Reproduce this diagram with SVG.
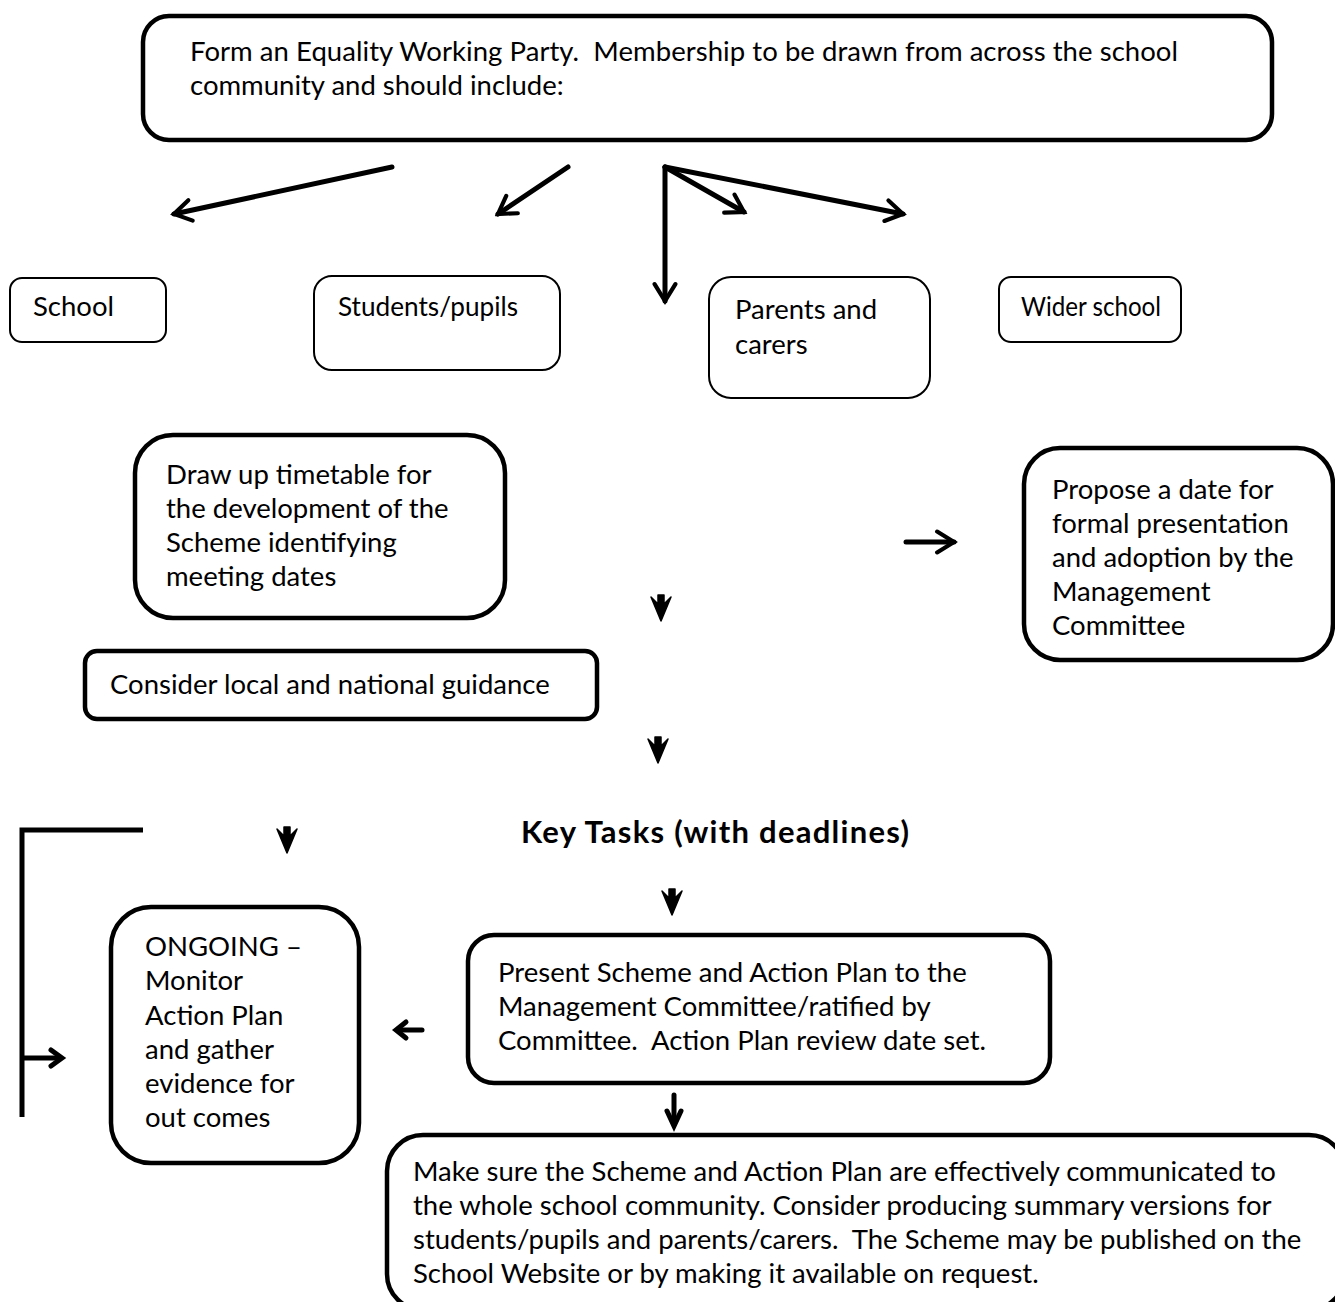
<svg xmlns="http://www.w3.org/2000/svg" width="1335" height="1302" viewBox="0 0 1335 1302" xml:space="preserve">
<defs>
<style>
text{font-family:"Lato","Liberation Sans",sans-serif;font-size:27.5px;fill:#000;white-space:pre}
.b{font-weight:bold;font-size:31px}
.thick{fill:#fff;stroke:#000;stroke-width:4.5}
.thin{fill:#fff;stroke:#000;stroke-width:2}
.ln{fill:none;stroke:#000;stroke-width:5;stroke-linecap:round;stroke-linejoin:round}
.hd{fill:none;stroke:#000;stroke-width:5;stroke-linecap:round;stroke-linejoin:miter}
.fa{fill:#000;stroke:#000;stroke-width:1.5;stroke-linejoin:round}
</style>
<marker id="open" viewBox="0 0 20 20" refX="17" refY="10" markerWidth="26" markerHeight="26" markerUnits="userSpaceOnUse" orient="auto">
<path d="M4,2 L17,10 L4,18" fill="none" stroke="#000" stroke-width="3.2" stroke-linecap="round"/>
</marker>
</defs>
<rect width="1335" height="1302" fill="#fff"/>

<g id="connectors">
<line class="ln" x1="392" y1="167" x2="174" y2="214" marker-end="url(#open)"/>
<line class="ln" x1="568" y1="167" x2="498" y2="214" marker-end="url(#open)"/>
<line class="ln" x1="665" y1="167" x2="665" y2="301" marker-end="url(#open)"/>
<line class="ln" x1="665" y1="167" x2="744" y2="212" marker-end="url(#open)"/>
<line class="ln" x1="665" y1="167" x2="903" y2="214" marker-end="url(#open)"/>
<line class="ln" x1="906" y1="542" x2="954" y2="542" marker-end="url(#open)"/>
<path class="fa" d="M651,597 L661,621 L671,597 L664,604 L664,595 L658,595 L658,604 Z"/>
<path class="fa" d="M648,739 L658,763 L668,739 L661,746 L661,737 L655,737 L655,746 Z"/>
<path class="fa" d="M277,829 L287,853 L297,829 L290,836 L290,827 L284,827 L284,836 Z"/>
<path class="fa" d="M662,891 L672,915 L682,891 L675,898 L675,889 L669,889 L669,898 Z"/>
<line class="ln" x1="674" y1="1095" x2="674" y2="1124"/>
<path class="hd" d="M667,1111 L674,1126 L681,1111"/>
<line class="ln" x1="422" y1="1030" x2="398" y2="1030"/>
<path class="hd" d="M406,1022 L396,1030 L406,1038"/>
<path class="ln" d="M143,830 L22,830 L22,1117" style="stroke-linecap:butt;stroke-linejoin:miter"/>
<line class="ln" x1="24" y1="1058" x2="59" y2="1058"/>
<path class="hd" d="M51,1050 L62,1058 L51,1066"/>
</g>

<g id="n-form">
<rect class="thick" x="143" y="16" width="1129" height="124" rx="26"/>
<text x="190" y="61" textLength="988" lengthAdjust="spacing">Form an Equality Working Party.  Membership to be drawn from across the school</text>
<text x="190" y="95">community and should include:</text>
</g>

<g id="n-school">
<rect class="thin" x="10" y="278" width="156" height="64" rx="12"/>
<text x="33" y="316">School</text>
</g>
<g id="n-students">
<rect class="thin" x="314" y="276" width="246" height="94" rx="18"/>
<text x="338" y="316" textLength="180" lengthAdjust="spacingAndGlyphs">Students/pupils</text>
</g>
<g id="n-parents">
<rect class="thin" x="709" y="277" width="221" height="121" rx="22"/>
<text x="735" y="319">Parents and</text>
<text x="735" y="354">carers</text>
</g>
<g id="n-wider">
<rect class="thin" x="999" y="277" width="182" height="65" rx="12"/>
<text x="1021" y="316" textLength="140" lengthAdjust="spacingAndGlyphs">Wider school</text>
</g>

<g id="n-timetable">
<rect class="thick" x="135" y="435" width="370" height="183" rx="38"/>
<text x="166" y="484">Draw up timetable for</text>
<text x="166" y="518">the development of the</text>
<text x="166" y="552">Scheme identifying</text>
<text x="166" y="586">meeting dates</text>
</g>

<g id="n-propose">
<rect class="thick" x="1024" y="448" width="309" height="212" rx="36"/>
<text x="1052" y="499">Propose a date for</text>
<text x="1052" y="533">formal presentation</text>
<text x="1052" y="567">and adoption by the</text>
<text x="1052" y="601">Management</text>
<text x="1052" y="635">Committee</text>
</g>

<g id="n-guidance">
<rect class="thick" x="85" y="651" width="512" height="68" rx="12"/>
<text x="110" y="694">Consider local and national guidance</text>
</g>

<g id="n-keytasks">
<text class="b" x="715" y="843" text-anchor="middle" textLength="388" lengthAdjust="spacing">Key Tasks (with deadlines)</text>
</g>

<g id="n-ongoing">
<rect class="thick" x="111" y="907" width="248" height="256" rx="40"/>
<text x="145" y="956">ONGOING –</text>
<text x="145" y="990">Monitor</text>
<text x="145" y="1025">Action Plan</text>
<text x="145" y="1059">and gather</text>
<text x="145" y="1093">evidence for</text>
<text x="145" y="1127">out comes</text>
</g>

<g id="n-present">
<rect class="thick" x="468" y="935" width="582" height="148" rx="26"/>
<text x="498" y="982">Present Scheme and Action Plan to the</text>
<text x="498" y="1016">Management Committee/ratified by</text>
<text x="498" y="1050">Committee.  Action Plan review date set.</text>
</g>

<g id="n-communicate">
<rect class="thick" x="387" y="1135" width="958" height="175" rx="36"/>
<text x="413" y="1181">Make sure the Scheme and Action Plan are effectively communicated to</text>
<text x="413" y="1215">the whole school community. Consider producing summary versions for</text>
<text x="413" y="1249">students/pupils and parents/carers.  The Scheme may be published on the</text>
<text x="413" y="1283">School Website or by making it available on request.</text>
</g>
</svg>
